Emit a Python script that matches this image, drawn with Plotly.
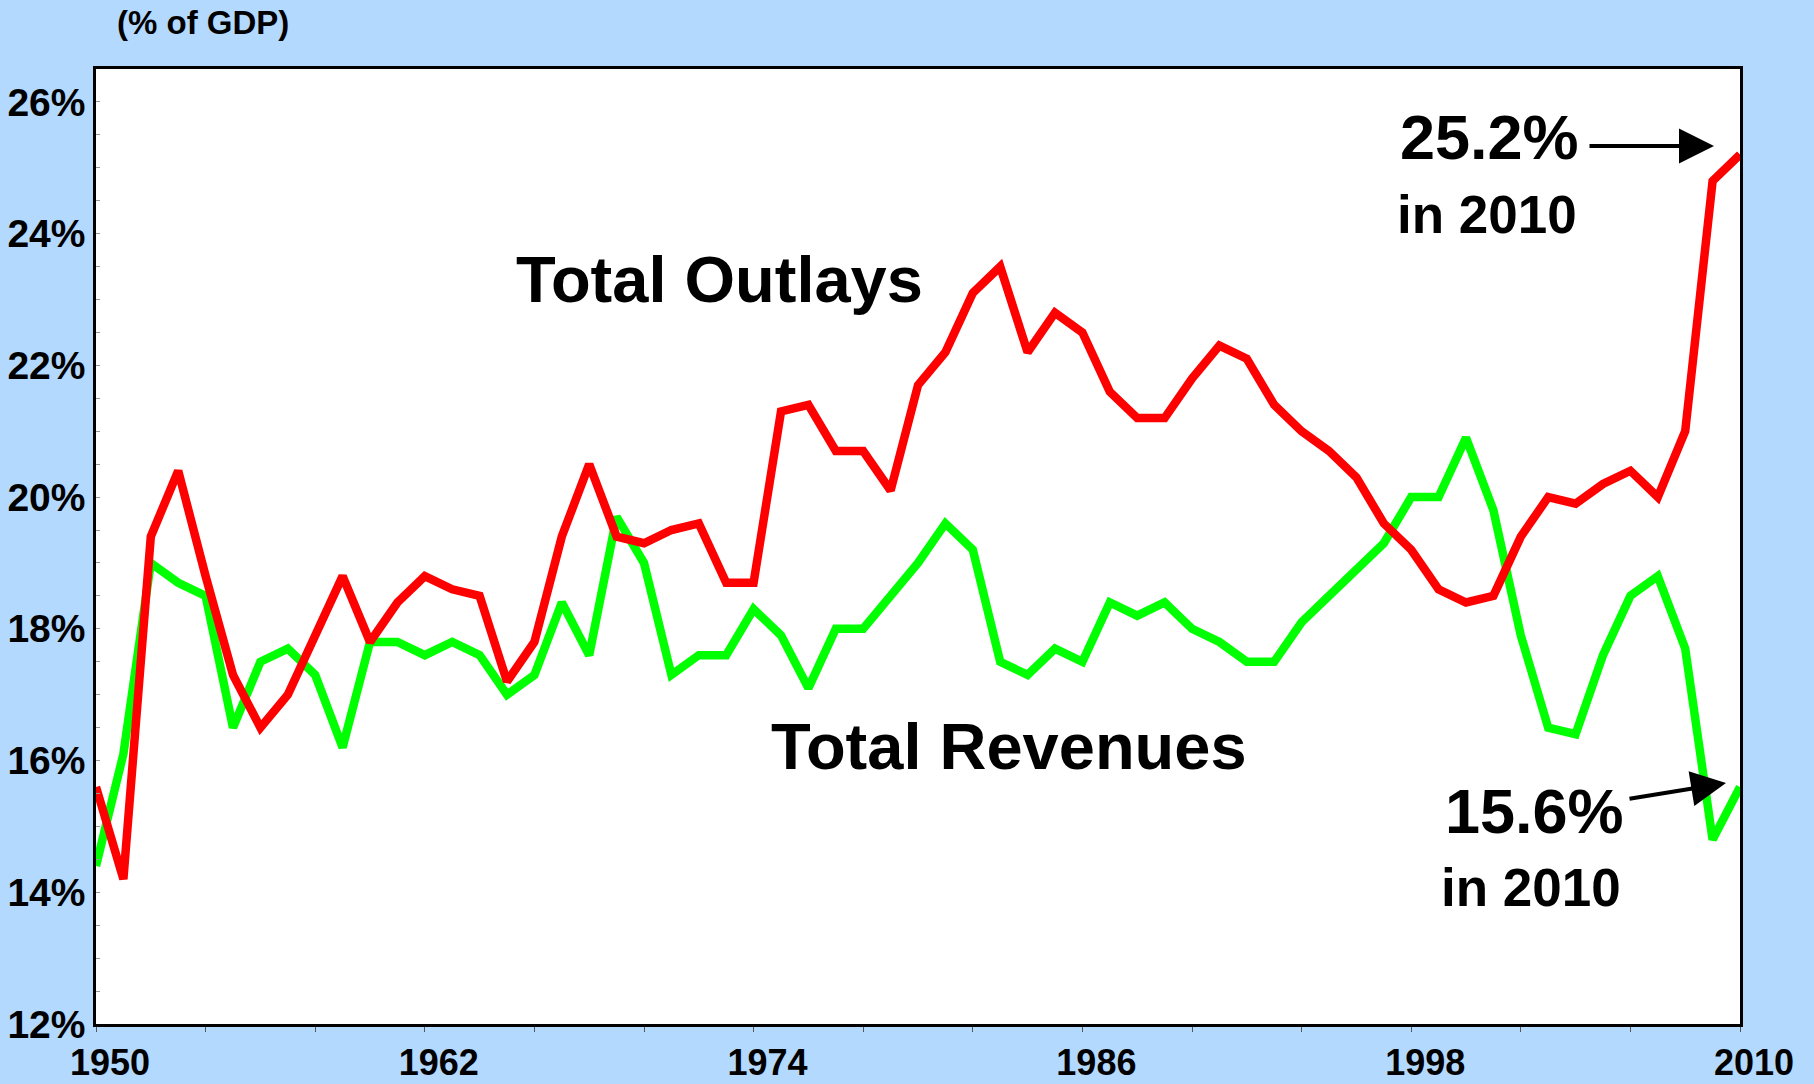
import plotly.graph_objects as go

years = list(range(1950, 2011))

outlays = [15.6, 14.2, 19.4, 20.4, 18.8, 17.3, 16.5, 17.0, 17.9, 18.8,
           17.8, 18.4, 18.8, 18.6, 18.5, 17.2, 17.8, 19.4, 20.5, 19.4,
           19.3, 19.5, 19.6, 18.7, 18.7, 21.3, 21.4, 20.7, 20.7, 20.1,
           21.7, 22.2, 23.1, 23.5, 22.2, 22.8, 22.5, 21.6, 21.2, 21.2,
           21.8, 22.3, 22.1, 21.4, 21.0, 20.7, 20.3, 19.6, 19.2, 18.6,
           18.4, 18.5, 19.4, 20.0, 19.9, 20.2, 20.4, 20.0, 21.0, 24.8,
           25.2]

revenues = [14.4, 16.1, 19.0, 18.7, 18.5, 16.5, 17.5, 17.7, 17.3, 16.2,
            17.8, 17.8, 17.6, 17.8, 17.6, 17.0, 17.3, 18.4, 17.6, 19.7,
            19.0, 17.3, 17.6, 17.6, 18.3, 17.9, 17.1, 18.0, 18.0, 18.5,
            19.0, 19.6, 19.2, 17.5, 17.3, 17.7, 17.5, 18.4, 18.2, 18.4,
            18.0, 17.8, 17.5, 17.5, 18.1, 18.5, 18.9, 19.3, 20.0, 20.0,
            20.9, 19.8, 17.9, 16.5, 16.4, 17.6, 18.5, 18.8, 17.7, 14.8,
            15.6]

y_ticks = [12, 14, 16, 18, 20, 22, 24, 26]
y_tick_text = [f"{v}%" for v in y_ticks]
x_ticks = [1950, 1962, 1974, 1986, 1998, 2010]

FONT = "Liberation Sans, Arial, sans-serif"
BG = "rgb(179,217,255)"

fig = go.Figure()
fig.add_trace(go.Scatter(x=years, y=revenues, mode="lines",
                         line=dict(color="#00FF00", width=8.5),
                         name="Total Revenues", hoverinfo="skip"))
fig.add_trace(go.Scatter(x=years, y=outlays, mode="lines",
                         line=dict(color="#FF0000", width=8.5),
                         name="Total Outlays", hoverinfo="skip"))

fig.update_layout(
    width=1814, height=1084,
    margin=dict(l=96, r=74, t=69, b=60, autoexpand=False),
    paper_bgcolor=BG, plot_bgcolor="white",
    showlegend=False,
    font=dict(family=FONT, color="black"),
)

fig.update_xaxes(
    range=[1950, 2010], tickvals=x_ticks, automargin=False,
    showgrid=False, zeroline=False,
    showline=True, mirror=True, linecolor="black", linewidth=2.5,
    ticks="outside", ticklen=5, tickcolor="#555", tickwidth=1,
    minor=dict(dtick=4, tick0=1950, ticks="outside", ticklen=5, tickcolor="#555"),
    tickfont=dict(family=FONT, size=36, weight="bold"),
    ticklabelshift=14,
)
fig.update_yaxes(
    range=[12, 26.5], tickvals=y_ticks, ticktext=y_tick_text, automargin=False,
    showgrid=False, zeroline=False,
    showline=True, mirror=True, linecolor="black", linewidth=2.5,
    ticks="inside", ticklen=4, tickcolor="#999", tickwidth=1,
    minor=dict(dtick=0.5, tick0=12, ticks="inside", ticklen=4, tickcolor="#999"),
    tickfont=dict(family=FONT, size=39, weight="bold"),
)

def px_x(p):
    return (p - 96) / 1644.0

def px_y(p):
    return (1024 - p) / 955.0

texts = [
    ("(% of GDP)", 203, 22, 33),
    ("Total Outlays", 719, 279, 65),
    ("Total Revenues", 1009, 746, 65),
    ("25.2%", 1489, 137, 63),
    ("in 2010", 1487, 214, 53),
    ("15.6%", 1534, 811, 63),
    ("in 2010", 1531, 887, 53),
]
for t, x, y, s in texts:
    fig.add_annotation(text=t, x=px_x(x), y=px_y(y), xref="paper", yref="paper",
                       showarrow=False, xanchor="center", yanchor="middle",
                       font=dict(family=FONT, size=s, color="black", weight="bold"))

arrows = [
    (1714, 146, -126, 0),
    (1726, 783, -98, 16),
]
for x, y, ax, ay in arrows:
    fig.add_annotation(text="", x=px_x(x), y=px_y(y), xref="paper", yref="paper",
                       ax=ax, ay=ay, axref="pixel", ayref="pixel",
                       showarrow=True, arrowhead=2, arrowsize=1.75, arrowwidth=4,
                       arrowcolor="black")

fig.write_html("out.html", config={"displayModeBar": False},
               post_script="document.body.style.margin='0';")
